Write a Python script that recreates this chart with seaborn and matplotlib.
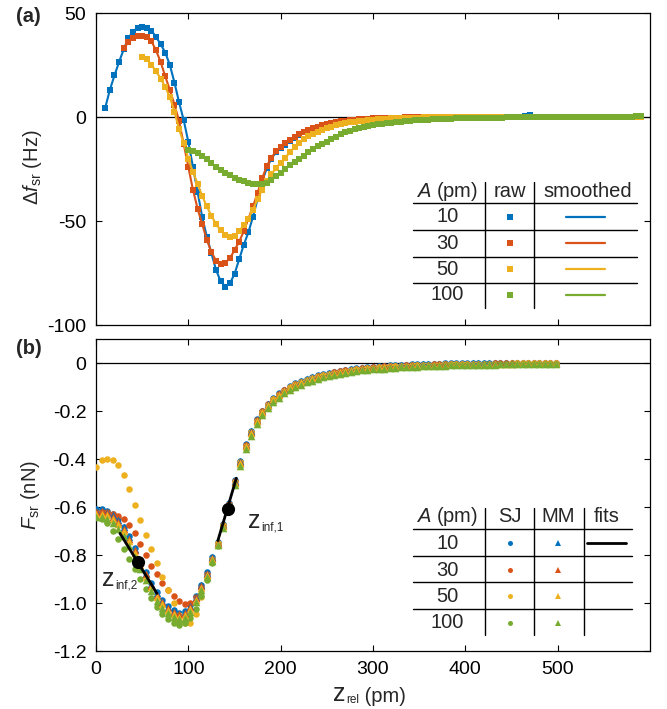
import matplotlib

matplotlib.use("Agg")
import matplotlib.pyplot as plt
import numpy as np
import pandas as pd
import seaborn as sns
from matplotlib.lines import Line2D

W, H = 667, 709

COLORS = ["#0072BD", "#D95319", "#EDB120", "#77AC30"]
AMPLITUDES = ["10", "30", "50", "100"]

# ---- panel (a): frequency shift, sampled every 5 pm ----
DF_STEP = 5
DF_START = [10, 30, 50, 100]
df_a10 = [
    4.5, 13.0, 20.0, 26.5, 32.5, 38.0, 41.0, 43.0, 43.5, 43.0,
    41.5, 38.5, 35.0, 31.0, 25.0, 16.5, 7.0, -1.5, -12.0, -24.0,
    -36.0, -48.0, -57.5, -65.5, -73.5, -79.0, -81.5, -80.0, -75.5, -68.5,
    -61.5, -55.5, -48.0, -39.5, -31.0, -24.5, -20.0, -17.0, -15.0, -13.5,
    -11.5, -10.0, -8.5, -7.2, -6.2, -5.4, -4.8, -4.1, -3.5, -3.0,
    -2.6, -2.2, -1.9, -1.6, -1.4, -1.2, -1.0, -0.9, -0.8, -0.7,
    -0.6, -0.5, -0.4, -0.4, -0.3, -0.3, -0.2, -0.2, -0.2, -0.1,
    -0.1, 0.0, -0.1, 0.1, -0.2, 0.0, 0.1, -0.1, 0.0, 0.2,
    -0.2, 0.0, -0.6, 0.1, 0.0, -0.1, 0.2, 0.0, -0.1, 0.1,
    0.0, 0.3, 0.8, 0.1, -0.1, 0.0, 0.2, 0.0, -0.1, 0.1,
    0.0, 0.1, 0.0, -0.1, 0.1, 0.0, 0.1, 0.0, 0.1, 0.0,
    0.1, 0.0, 0.1, 0.1, 0.0, 0.1, 0.2,
]
df_a30 = [
    33.0, 36.0, 38.0, 39.0, 39.0, 38.5, 36.5, 32.0, 26.5, 19.5,
    13.0, 6.0, -2.0, -13.0, -24.0, -35.0, -44.0, -51.5, -59.0, -65.0,
    -69.0, -70.5, -70.0, -68.0, -64.0, -60.0, -55.0, -49.0, -43.0, -36.5,
    -29.5, -23.5, -19.5, -16.5, -14.3, -12.5, -11.0, -9.6, -8.3, -7.1,
    -6.1, -5.3, -4.6, -4.0, -3.4, -2.9, -2.5, -2.1, -1.8, -1.5,
    -1.3, -1.1, -0.9, -0.8, -0.7, -0.6, -0.5, -0.4, -0.4, -0.3,
    -0.3, -0.2, -0.2, -0.1, -0.1, -0.1, 0.0, -0.1, 0.1, 0.0,
    -0.1, 0.0, 0.1, -0.1, 0.0, 0.2, 0.0, -0.1, 0.1, 0.0,
    0.0, 0.1, -0.1, 0.0, 0.1, 0.0, 0.0, 0.1, 0.0, -0.1,
    0.0, 0.1, 0.0, 0.1, 0.0, 0.0, 0.1, 0.0, 0.1, 0.0,
    0.1, 0.0, 0.1, 0.0, 0.1, 0.1, 0.0, 0.1, 0.1, 0.0,
    0.1, 0.1, 0.2,
]
df_a50 = [
    29.0, 28.0, 25.0, 22.0, 18.5, 14.5, 9.5, 2.5, -6.0, -12.5,
    -20.0, -26.5, -32.0, -38.0, -43.0, -47.5, -51.5, -54.5, -56.5, -57.5,
    -57.0, -55.0, -52.0, -49.0, -44.5, -39.5, -35.0, -31.0, -27.5, -24.5,
    -22.0, -19.5, -17.0, -14.5, -12.5, -10.8, -9.3, -8.0, -7.0, -6.1,
    -5.3, -4.6, -4.0, -3.5, -3.0, -2.6, -2.3, -2.0, -1.7, -1.5,
    -1.3, -1.1, -1.0, -0.8, -0.7, -0.6, -0.5, -0.5, -0.4, -0.3,
    -0.3, -0.2, -0.2, -0.2, -0.1, -0.1, -0.1, 0.0, -0.1, 0.0,
    0.0, 0.1, 0.0, -0.1, 0.0, 0.1, 0.0, 0.0, 0.1, 0.0,
    0.1, 0.0, 0.0, 0.1, 0.0, 0.1, 0.0, 0.1, 0.0, 0.1,
    0.0, 0.1, 0.1, 0.0, 0.1, 0.0, 0.1, 0.1, 0.0, 0.1,
    0.1, 0.0, 0.1, 0.1, 0.1, 0.0, 0.1, 0.1, 0.2,
]
df_a100 = [
    -16.0, -16.5, -17.5, -18.8, -20.3, -22.3, -24.0, -25.5, -26.8, -28.0,
    -29.3, -30.2, -31.0, -31.6, -32.0, -32.2, -32.0, -31.5, -30.2, -28.5,
    -26.8, -25.0, -23.3, -21.8, -20.2, -18.6, -17.0, -15.4, -14.0, -12.9,
    -11.8, -10.6, -9.4, -8.3, -7.4, -6.6, -5.9, -5.3, -4.8, -4.3,
    -3.9, -3.6, -3.3, -3.0, -2.7, -2.4, -2.2, -2.0, -1.8, -1.6,
    -1.5, -1.4, -1.3, -1.2, -1.1, -1.0, -0.9, -0.8, -0.7, -0.6,
    -0.6, -0.5, -0.5, -0.4, -0.4, -0.4, -0.3, -0.3, -0.3, -0.2,
    -0.2, -0.2, -0.2, -0.1, -0.1, -0.1, -0.1, -0.1, 0.0, 0.0,
    0.0, 0.0, 0.0, 0.0, 0.0, 0.0, 0.0, 0.1, 0.0, 0.1,
    0.1, 0.0, 0.1, 0.1, 0.1, 0.2, 0.2, 0.3, 0.6,
]

# ---- panel (b): force, sampled every 6 pm from 0 pm ----
F_STEP = 6
sj_a10 = [
    -0.608, -0.610, -0.616, -0.630, -0.652, -0.682, -0.722, -0.770, -0.820, -0.870,
    -0.916, -0.956, -0.987, -1.012, -1.030, -1.040, -1.034, -1.010, -0.972, -0.924,
    -0.872, -0.807, -0.745, -0.670, -0.582, -0.487, -0.407, -0.337, -0.283, -0.235,
    -0.198, -0.169, -0.146, -0.127, -0.111, -0.097, -0.085, -0.075, -0.066, -0.058,
    -0.052, -0.046, -0.041, -0.036, -0.032, -0.028, -0.025, -0.022, -0.019, -0.017,
    -0.015, -0.013, -0.011, -0.010, -0.009, -0.008, -0.007, -0.006, -0.005, -0.004,
    -0.004, -0.003, -0.003, -0.002, -0.002, -0.001, -0.001, -0.001, 0.000, 0.000,
    0.000, 0.000, 0.001, 0.001, 0.001, 0.001, 0.001, 0.001, 0.001, 0.001,
    0.001, 0.001, 0.001, 0.001,
]
sj_a30 = [
    -0.620, -0.620, -0.622, -0.628, -0.638, -0.652, -0.675, -0.710, -0.755, -0.800,
    -0.845, -0.880, -0.915, -0.945, -0.970, -0.990, -1.005, -1.000, -0.975, -0.932,
    -0.878, -0.815, -0.750, -0.675, -0.588, -0.493, -0.412, -0.342, -0.286, -0.238,
    -0.201, -0.172, -0.149, -0.130, -0.114, -0.100, -0.088, -0.078, -0.069, -0.061,
    -0.055, -0.049, -0.044, -0.039, -0.035, -0.031, -0.028, -0.025, -0.022, -0.020,
    -0.018, -0.016, -0.014, -0.013, -0.012, -0.011, -0.010, -0.009, -0.008, -0.007,
    -0.007, -0.006, -0.006, -0.005, -0.005, -0.004, -0.004, -0.004, -0.003, -0.003,
    -0.003, -0.003, -0.002, -0.002, -0.002, -0.002, -0.002, -0.002, -0.001, -0.001,
    -0.001, -0.001, -0.001, -0.001,
]
sj_a50 = [
    -0.435, -0.405, -0.400, -0.405, -0.425, -0.465, -0.525, -0.590, -0.655, -0.715,
    -0.775, -0.835, -0.890, -0.945, -1.000, -1.050, -1.085, -1.082, -1.045, -0.975,
    -0.895, -0.818, -0.752, -0.676, -0.590, -0.495, -0.414, -0.344, -0.289, -0.241,
    -0.203, -0.174, -0.151, -0.132, -0.115, -0.101, -0.089, -0.079, -0.070, -0.062,
    -0.056, -0.050, -0.045, -0.040, -0.036, -0.032, -0.029, -0.026, -0.023, -0.021,
    -0.019, -0.017, -0.015, -0.014, -0.013, -0.012, -0.011, -0.010, -0.009, -0.008,
    -0.008, -0.007, -0.007, -0.006, -0.006, -0.005, -0.005, -0.005, -0.004, -0.004,
    -0.004, -0.003, -0.003, -0.003, -0.003, -0.002, -0.002, -0.002, -0.002, -0.002,
    -0.002, -0.001, -0.001, -0.001,
]
sj_a100 = [
    -0.640, -0.648, -0.668, -0.700, -0.735, -0.775, -0.815, -0.857, -0.900, -0.940,
    -0.980, -1.015, -1.045, -1.068, -1.083, -1.090, -1.085, -1.063, -1.025, -0.970,
    -0.905, -0.835, -0.762, -0.685, -0.600, -0.507, -0.428, -0.358, -0.302, -0.254,
    -0.217, -0.187, -0.163, -0.143, -0.126, -0.112, -0.100, -0.089, -0.080, -0.072,
    -0.065, -0.059, -0.053, -0.048, -0.044, -0.040, -0.036, -0.033, -0.030, -0.028,
    -0.026, -0.024, -0.022, -0.020, -0.019, -0.017, -0.016, -0.015, -0.014, -0.013,
    -0.012, -0.011, -0.011, -0.010, -0.009, -0.009, -0.008, -0.008, -0.007, -0.007,
    -0.006, -0.006, -0.006, -0.005, -0.005, -0.005, -0.004, -0.004, -0.004, -0.004,
    -0.003, -0.003, -0.003, -0.003,
]
mm_a10 = [
    -0.615, -0.615, -0.620, -0.635, -0.655, -0.685, -0.725, -0.775, -0.825, -0.875,
    -0.920, -0.960, -0.990, -1.015, -1.032, -1.044, -1.036, -1.012, -0.975, -0.927,
    -0.875, -0.810, -0.748, -0.673, -0.585, -0.490, -0.410, -0.340, -0.285, -0.237,
    -0.200, -0.171, -0.148, -0.129, -0.113, -0.099, -0.087, -0.077, -0.068, -0.060,
    -0.054, -0.048, -0.043, -0.038, -0.034, -0.030, -0.027, -0.024, -0.021, -0.019,
    -0.017, -0.015, -0.013, -0.012, -0.011, -0.010, -0.009, -0.008, -0.007, -0.006,
    -0.006, -0.005, -0.005, -0.004, -0.004, -0.003, -0.003, -0.003, -0.002, -0.002,
    -0.002, -0.002, -0.001, -0.001, -0.001, -0.001, -0.001, -0.001, 0.000, 0.000,
    0.000, 0.000, 0.000, 0.000,
]
mm_a30 = [
    -0.620, -0.618, -0.624, -0.640, -0.662, -0.692, -0.732, -0.780, -0.830, -0.880,
    -0.925, -0.965, -0.995, -1.020, -1.036, -1.046, -1.040, -1.016, -0.978, -0.930,
    -0.878, -0.813, -0.750, -0.676, -0.588, -0.494, -0.413, -0.343, -0.287, -0.239,
    -0.202, -0.173, -0.150, -0.130, -0.114, -0.100, -0.088, -0.078, -0.069, -0.061,
    -0.055, -0.049, -0.044, -0.039, -0.035, -0.031, -0.028, -0.025, -0.022, -0.020,
    -0.018, -0.016, -0.014, -0.013, -0.012, -0.011, -0.010, -0.009, -0.008, -0.007,
    -0.007, -0.006, -0.006, -0.005, -0.005, -0.004, -0.004, -0.004, -0.003, -0.003,
    -0.003, -0.003, -0.002, -0.002, -0.002, -0.002, -0.002, -0.002, -0.001, -0.001,
    -0.001, -0.001, -0.001, -0.001,
]
mm_a50 = [
    -0.630, -0.628, -0.632, -0.648, -0.670, -0.700, -0.740, -0.790, -0.840, -0.890,
    -0.935, -0.975, -1.005, -1.030, -1.047, -1.057, -1.052, -1.026, -0.986, -0.936,
    -0.882, -0.817, -0.753, -0.679, -0.592, -0.498, -0.417, -0.347, -0.291, -0.243,
    -0.205, -0.176, -0.152, -0.133, -0.116, -0.102, -0.090, -0.080, -0.071, -0.063,
    -0.057, -0.051, -0.046, -0.041, -0.037, -0.033, -0.030, -0.027, -0.024, -0.022,
    -0.020, -0.018, -0.016, -0.015, -0.014, -0.013, -0.012, -0.011, -0.010, -0.009,
    -0.008, -0.008, -0.007, -0.007, -0.006, -0.006, -0.005, -0.005, -0.005, -0.004,
    -0.004, -0.004, -0.003, -0.003, -0.003, -0.003, -0.002, -0.002, -0.002, -0.002,
    -0.002, -0.001, -0.001, -0.001,
]
mm_a100 = [
    -0.640, -0.640, -0.648, -0.665, -0.690, -0.722, -0.762, -0.810, -0.858, -0.905,
    -0.950, -0.990, -1.020, -1.043, -1.060, -1.068, -1.062, -1.036, -0.995, -0.944,
    -0.890, -0.825, -0.760, -0.688, -0.603, -0.510, -0.430, -0.360, -0.303, -0.255,
    -0.218, -0.188, -0.164, -0.144, -0.127, -0.113, -0.101, -0.090, -0.081, -0.073,
    -0.066, -0.060, -0.054, -0.049, -0.045, -0.041, -0.037, -0.034, -0.031, -0.029,
    -0.027, -0.025, -0.023, -0.021, -0.020, -0.018, -0.017, -0.016, -0.015, -0.014,
    -0.013, -0.012, -0.012, -0.011, -0.010, -0.010, -0.009, -0.009, -0.008, -0.008,
    -0.007, -0.007, -0.007, -0.006, -0.006, -0.006, -0.005, -0.005, -0.005, -0.005,
    -0.004, -0.004, -0.004, -0.004,
]

# linear fits around the two inflection points
fit1_z = [132, 152]
fit1_f = [-0.74, -0.48]
fit2_z = [26, 66]
fit2_f = [-0.71, -0.96]
inflect_z = [142.5, 45]
inflect_f = [-0.61, -0.83]


def fx(px):
    return px / W


def fy(py):
    return 1 - py / H


def series_frame(start, step, values):
    z = start + step * np.arange(len(values))
    return pd.DataFrame({"z": z, "value": values})


sns.set_theme(style="ticks")
plt.rcParams.update({
    "font.family": ["Liberation Sans", "DejaVu Sans"],
    "mathtext.fontset": "custom",
    "mathtext.rm": "Liberation Sans",
    "mathtext.it": "Liberation Sans:italic",
    "mathtext.bf": "Liberation Sans:bold",
    "axes.unicode_minus": False,
    "axes.edgecolor": "black",
    "axes.linewidth": 0.9,
    "xtick.color": "black",
    "ytick.color": "black",
})

fig = plt.figure(figsize=(W / 100, H / 100), dpi=100)
ax1 = fig.add_axes([fx(96), fy(325), fx(650) - fx(96), fy(13) - fy(325)])
ax2 = fig.add_axes([fx(96), fy(651), fx(650) - fx(96), fy(339) - fy(651)])

# panel (a)
for i, (vals, start) in enumerate(zip([df_a10, df_a30, df_a50, df_a100], DF_START)):
    frame = series_frame(start, DF_STEP, vals)
    sns.scatterplot(data=frame, x="z", y="value", ax=ax1, marker="s", s=24,
                    color=COLORS[i], linewidth=0, legend=False, zorder=3 + 2 * i)
    sns.lineplot(data=frame, x="z", y="value", ax=ax1, color=COLORS[i], lw=1.5,
                 estimator=None, sort=False, legend=False, zorder=4 + 2 * i)
ax1.axhline(0, color="black", lw=0.9, zorder=1)
ax1.set_xlim(0, 600)
ax1.set_ylim(-100, 50)
ax1.set_xticks(range(0, 501, 100))
ax1.set_xticklabels([])
ax1.set_yticks([-100, -50, 0, 50])
ax1.set_yticklabels(["-100", "-50", "0", "50"])

# panel (b)
for i, vals in enumerate([sj_a10, sj_a30, sj_a50, sj_a100]):
    frame = series_frame(0, F_STEP, vals)
    sns.scatterplot(data=frame, x="z", y="value", ax=ax2, marker="o", s=22,
                    color=COLORS[i], linewidth=0, legend=False, zorder=3 + i)
for i, vals in enumerate([mm_a10, mm_a30, mm_a50, mm_a100]):
    frame = series_frame(0, F_STEP, vals)
    sns.scatterplot(data=frame, x="z", y="value", ax=ax2, marker="^", s=30,
                    color=COLORS[i], linewidth=0, legend=False, zorder=7 + i)
for fz, ff in [(fit1_z, fit1_f), (fit2_z, fit2_f)]:
    sns.lineplot(x=fz, y=ff, ax=ax2, color="black", lw=2.0, estimator=None,
                 sort=False, legend=False, zorder=12)
sns.scatterplot(x=inflect_z, y=inflect_f, ax=ax2, color="black", s=90,
                linewidth=0, legend=False, zorder=13)
ax2.axhline(0, color="black", lw=0.9, zorder=1)
ax2.set_xlim(0, 600)
ax2.set_ylim(-1.2, 0.1)
ax2.set_xticks(range(0, 501, 100))
ax2.set_yticks([-1.2, -1.0, -0.8, -0.6, -0.4, -0.2, 0])
ax2.set_yticklabels(["-1.2", "-1.0", "-0.8", "-0.6", "-0.4", "-0.2", "0"])

for ax in (ax1, ax2):
    ax.set_xlabel("")
    ax.set_ylabel("")
    ax.tick_params(direction="in", top=True, right=True, length=4, width=0.8,
                   labelsize=14, pad=7)
    for sp in ax.spines.values():
        sp.set_visible(True)

# axis labels
fig.text(fx(32), fy(167), r"$\Delta f_{\rm sr}$ (Hz)", rotation=90, fontsize=14.5,
         ha="center", va="center")
fig.text(fx(30), fy(495), r"$F_{\rm sr}$ (nN)", rotation=90, fontsize=14.5,
         ha="center", va="center")
fig.text(fx(16), fy(16), "(a)", fontsize=14.5, fontweight="bold", ha="left", va="center")
fig.text(fx(16), fy(349), "(b)", fontsize=14.5, fontweight="bold", ha="left", va="center")


def z_label(x_px, y_px, sub, rest="", zsize=18, subsize=8.5, restsize=14.5):
    t = fig.text(fx(x_px), fy(y_px), "z", fontsize=zsize, ha="left", va="baseline")
    s = ax2.annotate(sub, xy=(1, 0), xycoords=t, xytext=(0.3, 2.0),
                     textcoords="offset points", fontsize=subsize, va="baseline",
                     ha="left", annotation_clip=False)
    if rest:
        ax2.annotate(rest, xy=(1, 0), xycoords=s, xytext=(0, 3.4),
                     textcoords="offset points", fontsize=restsize, va="baseline",
                     ha="left", annotation_clip=False)


z_label(333, 701, "rel", " (pm)")
z_label(248, 528, "inf,1")
z_label(102, 586, "inf,2")


# legend tables
def fig_line(xs, ys, **kw):
    fig.add_artist(Line2D([fx(x) for x in xs], [fy(y) for y in ys],
                          transform=fig.transFigure, **kw))


def table(header, header_x, col_sep, hlines_y, row_y, x0, x1, y_top, y_bot, head_y):
    for label, x in zip(header, header_x):
        fig.text(fx(x), fy(head_y), label, fontsize=14.5, ha="center", va="center")
    for y in hlines_y:
        fig_line([x0, x1], [y, y], color="black", lw=1.0)
    for x in col_sep:
        fig_line([x, x], [y_top, y_bot], color="black", lw=1.0)
    for amp, y in zip(AMPLITUDES, row_y):
        fig.text(fx(447.5), fy(y), amp, fontsize=14.5, ha="center", va="center")


rows_a = [216.7, 243.3, 269.3, 295.0]
table([r"$A$ (pm)", "raw", "smoothed"], [447.5, 510, 588], [485, 534],
      [202.7, 230, 256.7, 282.7], rows_a, 413, 637, 181.7, 308.3, 191.7)
for c, y in zip(COLORS, rows_a):
    fig_line([510], [y], marker="s", ms=4.2, color=c, ls="none", mew=0)
    fig_line([566, 605], [y, y], color=c, lw=1.6)

rows_b = [543.3, 570.0, 596.0, 622.7]
table([r"$A$ (pm)", "SJ", "MM", "fits"], [447.5, 510, 558, 607], [485, 534, 584],
      [529.3, 555.7, 582.3, 609], rows_b, 413, 632, 508.3, 635, 516.7)
for c, y in zip(COLORS, rows_b):
    fig_line([510], [y], marker="o", ms=3.6, color=c, ls="none", mew=0)
    fig_line([558], [y], marker="^", ms=4.8, color=c, ls="none", mew=0)
fig_line([587, 626], [rows_b[0], rows_b[0]], color="black", lw=2.0)

fig.savefig("out.png", dpi=100)
